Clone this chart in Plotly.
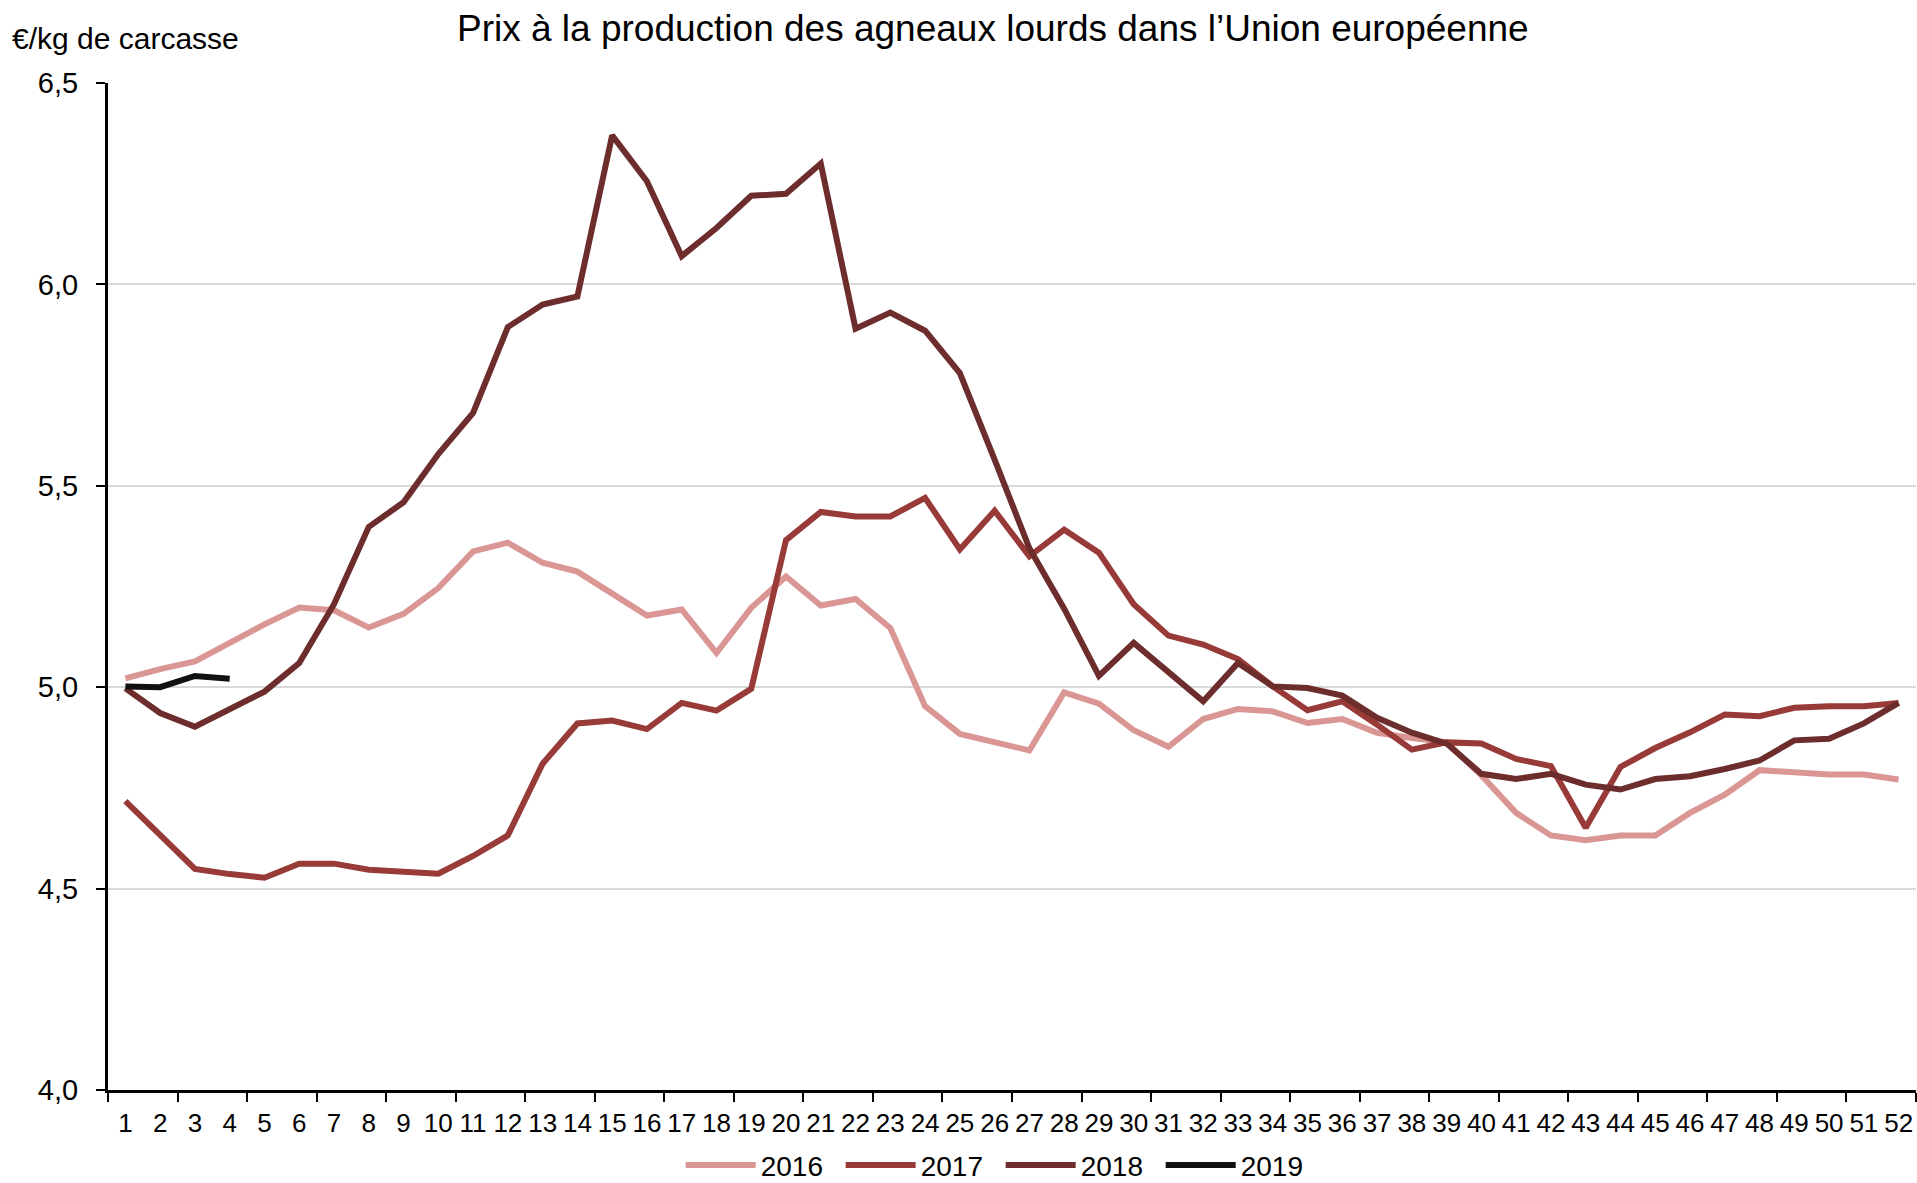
import plotly.graph_objects as go

weeks = list(range(1, 53))
week_labels = [str(w) for w in weeks]

prix_2016 = [5.022, 5.045, 5.064, 5.112, 5.156, 5.198, 5.191, 5.148, 5.182, 5.246,
             5.337, 5.359, 5.309, 5.287, 5.234, 5.178, 5.193, 5.085, 5.197, 5.275,
             5.203, 5.219, 5.147, 4.953, 4.884, 4.862, 4.843, 4.987, 4.959, 4.893,
             4.852, 4.921, 4.946, 4.940, 4.911, 4.921, 4.887, 4.874, 4.863, 4.781,
             4.688, 4.632, 4.620, 4.632, 4.632, 4.688, 4.733, 4.794, 4.789, 4.783,
             4.783, 4.771]
prix_2017 = [4.717, 4.632, 4.549, 4.536, 4.527, 4.562, 4.562, 4.547, 4.543, 4.537,
             4.581, 4.632, 4.810, 4.910, 4.917, 4.896, 4.961, 4.942, 4.996, 5.365,
             5.435, 5.424, 5.424, 5.470, 5.342, 5.438, 5.325, 5.391, 5.334, 5.206,
             5.128, 5.106, 5.070, 5.002, 4.943, 4.965, 4.907, 4.845, 4.863, 4.860,
             4.822, 4.804, 4.651, 4.802, 4.849, 4.888, 4.932, 4.928, 4.949, 4.953,
             4.953, 4.961]
prix_2018 = [4.997, 4.936, 4.902, 4.947, 4.989, 5.060, 5.206, 5.398, 5.459, 5.579,
             5.681, 5.894, 5.950, 5.970, 6.370, 6.256, 6.070, 6.140, 6.220, 6.225,
             6.300, 5.890, 5.930, 5.885, 5.780, 5.565, 5.345, 5.195, 5.028, 5.110,
             5.037, 4.965, 5.060, 5.002, 4.998, 4.979, 4.924, 4.887, 4.860, 4.785,
             4.772, 4.785, 4.758, 4.746, 4.772, 4.779, 4.797, 4.818, 4.868, 4.872,
             4.910, 4.961]
prix_2019 = [5.002, 5.000, 5.028, 5.021]

series_names = ["2016", "2017", "2018", "2019"]
series_values = [prix_2016, prix_2017, prix_2018, prix_2019]
series_colors = ["#DA9694", "#983B38", "#6C2D2C", "#111111"]

y_ticks = [4.0, 4.5, 5.0, 5.5, 6.0, 6.5]

FONT = "Liberation Sans, Arial, sans-serif"

fig = go.Figure()
for name, vals, col in zip(series_names, series_values, series_colors):
    fig.add_trace(go.Scatter(
        x=weeks[:len(vals)], y=vals, name=name, mode="lines",
        line=dict(color=col, width=6),
    ))

fig.update_layout(
    width=1917, height=1183,
    margin=dict(l=108, r=1, t=83, b=93, autoexpand=False),
    paper_bgcolor="white", plot_bgcolor="white",
    separators=", ",
    font=dict(family=FONT, color="black"),
    showlegend=True,
    legend=dict(
        orientation="h", xref="container", yref="container",
        x=0.522, xanchor="center", y=0.015, yanchor="middle",
        font=dict(size=28, family=FONT), entrywidth=75, entrywidthmode="pixels",
        itemwidth=70, borderwidth=0,
    ),
    xaxis=dict(
        range=[0.5, 52.5], tickmode="array", tickvals=weeks, ticktext=week_labels,
        ticks="", showgrid=False, zeroline=False,
        showline=True, linecolor="black", linewidth=3,
        tickfont=dict(size=26, family=FONT), ticklabelstandoff=8,
        minor=dict(tickmode="linear", tick0=0.5, dtick=2, ticks="outside",
                   ticklen=9, tickwidth=2, tickcolor="black", showgrid=False),
    ),
    yaxis=dict(
        range=[4.0, 6.5], tickmode="array", tickvals=y_ticks, tickformat=".1f",
        ticks="outside", ticklen=9, tickwidth=2, tickcolor="black",
        showgrid=True, gridcolor="#D9D9D9", gridwidth=2, zeroline=False,
        showline=True, linecolor="black", linewidth=3,
        tickfont=dict(size=29, family=FONT), ticklabelstandoff=12,
    ),
    annotations=[
        dict(text="Prix à la production des agneaux lourds dans l’Union européenne",
             xref="paper", yref="paper", x=(993 - 108) / 1808, y=1 + (83 - 28) / 1007,
             xanchor="center", yanchor="middle", showarrow=False,
             font=dict(size=37, family=FONT)),
        dict(text="€/kg de carcasse",
             xref="paper", yref="paper", x=(10 - 108) / 1808, y=1 + (83 - 39) / 1007,
             xanchor="left", yanchor="middle", showarrow=False,
             font=dict(size=30, family=FONT)),
    ],
)

fig.write_html("out.html", post_script="document.body.style.margin='0';",
               config={"displayModeBar": False})
